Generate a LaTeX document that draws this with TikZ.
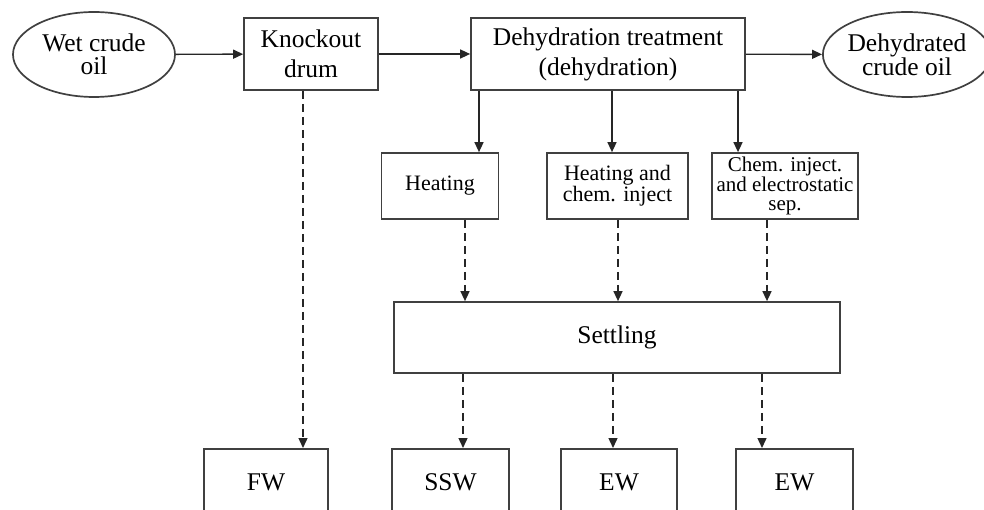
\documentclass[tikz,border=0pt]{standalone}
\usepackage{fontspec}
\setmainfont{Liberation Serif}
\usetikzlibrary{arrows.meta,shapes.geometric}
\tikzset{
  unit/.style={draw=black!75, line width=1.7pt, fill=white, align=center, inner sep=0pt,
    font=\fontsize{25.5}{30}\selectfont},
  feed/.style={unit, ellipse, minimum width=162pt, minimum height=85pt,
    font=\fontsize{25.5}{23}\selectfont},
  stage/.style={unit, minimum height=66pt, font=\fontsize{22}{21}\selectfont},
  water/.style={unit, anchor=north, minimum height=67pt},
  flow/.style={-{Triangle[length=10pt,width=9pt]}, line width=1.4pt, black!85},
  drain/.style={flow, dash pattern=on 8pt off 5pt}
}
\begin{document}
\begin{tikzpicture}[x=1pt,y=-1pt]
            \useasboundingbox (0,0) rectangle (984,510);
            \clip (0,0) rectangle (984,510);

            % Top row
            \node[feed] (wet) at (94,54.5) {Wet crude\\oil};
            \node[unit, minimum width=134pt, minimum height=72pt] (knock) at (311,54) {Knockout\\drum};
            \node[unit, minimum width=274pt, minimum height=72pt] (dehyd) at (608,54) {Dehydration treatment\\(dehydration)};
            \node[feed, minimum width=168pt] (dry) at (907,54.5) {Dehydrated\\crude oil};

            % Treatment options
            \node[stage, minimum width=117pt] (heat) at (440,186) {Heating};
            \node[stage, minimum width=141pt] (heatchem) at (617.5,186) {Heating and\\chem. inject};
            \node[stage, minimum width=146pt, font=\fontsize{21}{19}\selectfont] (elec) at (785,186) {Chem. inject.\\and electrostatic\\sep.};

            % Settling
            \node[unit, minimum width=446pt, minimum height=71pt] (settle) at (617,337.5) {Settling};

            % Water outlets
            \node[water, minimum width=124pt] (fw) at (266,448) {FW};
            \node[water, minimum width=117pt] (ssw) at (450.5,448) {SSW};
            \node[water, minimum width=116pt] (ew) at (619,448) {EW};
            \node[water, minimum width=117pt] (ewb) at (794.5,448) {EW};

            % Oil line
            \draw[flow] (wet) -- (knock);
            \draw[flow] (knock) -- (dehyd);
            \draw[flow] (dehyd) -- (dry);

            % Down to the options
            \draw[flow] ([xshift=39pt]heat.north |- dehyd.south) -- ([xshift=39pt]heat.north);
            \draw[flow] ([xshift=-5.5pt]heatchem.north |- dehyd.south) -- ([xshift=-5.5pt]heatchem.north);
            \draw[flow] ([xshift=-47pt]elec.north |- dehyd.south) -- ([xshift=-47pt]elec.north);

            % Water
            \draw[drain] ([xshift=-8pt]knock.south) -- ([xshift=-8pt]knock.south |- fw.north);
            \draw[drain] ([xshift=25pt]heat.south) -- ([xshift=25pt]heat.south |- settle.north);
            \draw[drain] ([xshift=0.5pt]heatchem.south) -- ([xshift=0.5pt]heatchem.south |- settle.north);
            \draw[drain] ([xshift=-18pt]elec.south) -- ([xshift=-18pt]elec.south |- settle.north);
            \draw[drain] ([xshift=12.5pt]ssw.north |- settle.south) -- ([xshift=12.5pt]ssw.north);
            \draw[drain] ([xshift=-6pt]ew.north |- settle.south) -- ([xshift=-6pt]ew.north);
            \draw[drain] ([xshift=-32.5pt]ewb.north |- settle.south) -- ([xshift=-32.5pt]ewb.north);
\end{tikzpicture}
\end{document}
